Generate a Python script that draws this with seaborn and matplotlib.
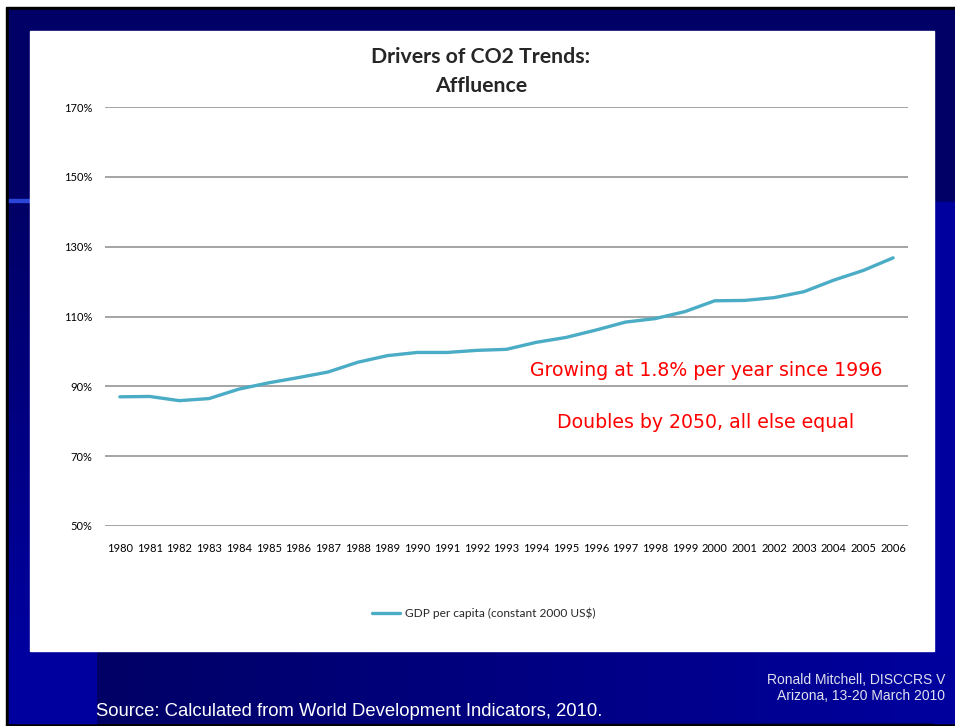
import numpy as np
import pandas as pd
import matplotlib
matplotlib.use("Agg")
import matplotlib.pyplot as plt
from matplotlib.patches import Rectangle
import seaborn as sns

# data (index, % of some base)
years = list(range(1980, 2007))
gdp_pc = [87.0, 87.1, 85.9, 86.5, 89.2, 91.0, 92.5, 94.1, 96.9, 98.8,
          99.7, 99.7, 100.3, 100.6, 102.6, 104.0, 106.1, 108.4, 109.4, 111.4,
          114.5, 114.6, 115.4, 117.1, 120.4, 123.2, 126.8]
y_ticks = [50, 70, 90, 110, 130, 150, 170]
series_name = "GDP per capita (constant 2000 US\\$)"

df = pd.DataFrame({"year": years, "gdp": gdp_pc})

sns.set_style("white")
plt.rcParams["font.family"] = ["Lato", "DejaVu Sans"]

W, H = 955, 726
fig = plt.figure(figsize=(W / 100, H / 100), dpi=100)

# slide background, drawn in pixel coords
bg = fig.add_axes([0, 0, 1, 1], zorder=-5)
bg.set_xlim(0, W)
bg.set_ylim(H, 0)
bg.axis("off")
navy = "#000066"
blue = "#00009E"
bg.add_patch(Rectangle((0, 0), W, H, color="white"))
bg.add_patch(Rectangle((6, 7), W - 6, H - 7, color="black"))
bg.add_patch(Rectangle((9, 10), W - 9, H - 13, color=navy))
bg.add_patch(Rectangle((934, 202), W - 934, 521, color=blue))
bg.add_patch(Rectangle((9, 651), 88, 72, color=blue))
vgrad = np.linspace(0, 1, 100).reshape(-1, 1)
bg.imshow(vgrad, extent=(9, 30, 651, 200), cmap=matplotlib.colors.LinearSegmentedColormap.from_list("v", [navy, blue]),
          aspect="auto", zorder=1)
hgrad = np.linspace(0, 1, 200).reshape(1, -1)
bg.imshow(hgrad, extent=(97, W, 723, 651), cmap=matplotlib.colors.LinearSegmentedColormap.from_list("h", [navy, blue]),
          aspect="auto", zorder=1)
bg.add_patch(Rectangle((9, 199), 21, 2.5, color="#2A45D8", zorder=2))
bg.add_patch(Rectangle((30, 31), 904, 620, color="white", zorder=3))

# chart
ax = fig.add_axes([105 / W, 1 - 526 / H, 803 / W, 419 / H])
ax.set_facecolor("none")
sns.lineplot(data=df, x="year", y="gdp", ax=ax, color="#4BACC6", linewidth=2.4, label=series_name)
ax.set_xlim(1979.5, 2006.5)
ax.set_ylim(50, 170)
ax.set_yticks(y_ticks)
ax.set_yticklabels([f"{v}%" for v in y_ticks])
ax.set_xticks(years)
ax.set_xticklabels([str(y) for y in years])
ax.yaxis.grid(True, color="#8C8C8C", linewidth=1.1)
ax.set_axisbelow(True)
for s in ax.spines.values():
    s.set_visible(False)
ax.tick_params(axis="x", length=0, pad=12, labelsize=8, labelcolor="black")
ax.tick_params(axis="y", length=0, pad=9, labelsize=8, labelcolor="black")
ax.set_xlabel("")
ax.set_ylabel("")
ax.legend(loc="center", bbox_to_anchor=(484 / W, 1 - 613 / H), bbox_transform=fig.transFigure,
          frameon=False, fontsize=8.6, handlelength=2.3, handletextpad=0.45)

fig.text(481 / W, 1 - 57 / H, "Drivers of CO2 Trends:", ha="center", va="center",
         fontsize=15.3, fontweight="bold")
fig.text(481 / W, 1 - 86 / H, "Affluence", ha="center", va="center",
         fontsize=15.3, fontweight="bold")

fig.text(706 / W, 1 - 370 / H, "Growing at 1.8% per year since 1996", ha="center", va="center",
         fontsize=13.6, color="#FF0000", family=["DejaVu Sans"])
fig.text(706 / W, 1 - 422 / H, "Doubles by 2050, all else equal", ha="center", va="center",
         fontsize=13.6, color="#FF0000", family=["DejaVu Sans"])

fig.text(96 / W, 1 - 711 / H, "Source: Calculated from World Development Indicators, 2010.",
         ha="left", va="center", fontsize=13.3, color="white",
         family=["Liberation Sans Narrow", "Liberation Sans"])
fig.text(945 / W, 1 - 680 / H, "Ronald Mitchell, DISCCRS V", ha="right", va="center",
         fontsize=10, color="#E0E0EE", family=["Liberation Sans Narrow", "Liberation Sans"])
fig.text(945 / W, 1 - 696 / H, "Arizona, 13-20 March 2010", ha="right", va="center",
         fontsize=10, color="#E0E0EE", family=["Liberation Sans Narrow", "Liberation Sans"])

fig.savefig("out.png", dpi=100)
